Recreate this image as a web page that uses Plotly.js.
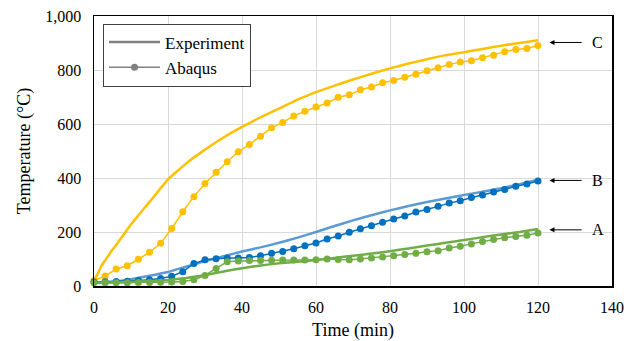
<!DOCTYPE html>
<html>
<head>
<meta charset="utf-8">
<script src="https://cdn.plot.ly/plotly-3.0.1.min.js"></script>
<style>html,body{margin:0;padding:0;background:#fff}#chart{width:633px;height:341px}</style>
</head>
<body>
<div id="chart"></div>
<script>
// Abaqus output times (min)
const tAbq = [0,3,6,9,12,15,18,21,24,27,30,33,36,39,42,45,48,51,54,57,60,63,66,69,72,75,78,81,84,87,90,93,96,99,102,105,108,111,114,117,120];
const abqC = [20,37,63,75,99,125,158,213,275,331,380,421,460,497,524,555,586,606,630,647,663,678,699,708,727,737,753,761,773,784,797,808,820,830,834,845,855,868,876,880,891];
const abqB = [15,16,17,18,20,23,28,36,53,83,97,101,104,104,106,112,121,128,138,149,159,174,185,199,212,223,236,248,259,274,283,295,307,316,328,337,348,357,369,378,389];
const abqA = [12,12,12,12,13,13,14,15,17,23,39,65,90,93,94,94,95,96,96,96,97,100,98,97,100,104,107,112,117,121,127,131,141,147,156,165,172,179,183,188,196];

// Experiment curves
const tExpC = [0,1,2,3,4,5,6,8,10,12,14,16,18,20,25,30,35,40,45,50,55,60,65,70,75,80,85,90,95,100,105,110,115,120];
const expC  = [20,45,75,95,115,135,152,190,228,262,295,328,362,395,455,505,550,589,625,657,690,718,742,765,786,806,824,840,855,866,878,890,900,910];
const tExp = [0,5,10,15,20,25,30,35,40,45,50,55,60,65,70,75,80,85,90,95,100,105,110,115,120];
const expB = [12,15,25,38,52,72,92,110,128,143,160,179,200,222,243,262,280,296,311,324,337,349,362,377,394];
const expA = [12,13,15,18,22,30,40,54,66,76,84,90,96,104,112,120,129,139,150,160,170,181,191,200,211];

// End labels
const labelText = ['C','B','A'];
const labelY = [902,391,208];

const FONT = '"Liberation Serif", "Times New Roman", serif';
const colC = '#FFC000', colBexp = '#5B9BD5', colBabq = '#0070C0', colA = '#70AD47';

function expTrace(x, y, c){ return {x:x, y:y, mode:'lines', line:{color:c, width:2.5, shape:'spline', smoothing:0.3}, showlegend:false, cliponaxis:false, hoverinfo:'skip'}; }
function abqTrace(x, y, c){ return {x:x, y:y, mode:'lines+markers', line:{color:c, width:1.5}, marker:{color:c, size:7}, showlegend:false, cliponaxis:false, hoverinfo:'skip'}; }

const traces = [
  expTrace(tExpC, expC, colC),
  abqTrace(tAbq, abqC, colC),
  expTrace(tExp, expB, colBexp),
  abqTrace(tAbq, abqB, colBabq),
  expTrace(tExp, expA, colA),
  abqTrace(tAbq, abqA, colA),
  {x:[null], y:[null], mode:'lines', name:'Experiment', line:{color:'#808080', width:2.5}, showlegend:true},
  {x:[null], y:[null], mode:'lines+markers', name:'Abaqus', line:{color:'#808080', width:1.5}, marker:{color:'#808080', size:7}, showlegend:true}
];

const annotations = [];
for (let i = 0; i < labelText.length; i++) {
  annotations.push({x:123.1, y:labelY[i], ax:132.2, ay:labelY[i], axref:'x', ayref:'y', xref:'x', yref:'y', text:'', showarrow:true, arrowhead:2, arrowsize:1, arrowwidth:1, arrowcolor:'#000', standoff:0, startstandoff:0});
  annotations.push({x:136.2, y:labelY[i], xref:'x', yref:'y', text:labelText[i], showarrow:false, xanchor:'center', yanchor:'middle', font:{family:FONT, size:16, color:'#000'}});
}

const layout = {
  width:633, height:341,
  margin:{l:94, r:21, t:16, b:55},
  paper_bgcolor:'#fff', plot_bgcolor:'#fff',
  font:{family:FONT, size:16, color:'#000'},
  xaxis:{range:[0,140], dtick:20, tick0:0, showgrid:true, gridcolor:'#d9d9d9', gridwidth:1, zeroline:false,
         showline:true, mirror:true, linecolor:'#000', linewidth:1.5, ticks:'', ticklabelstandoff:6,
         title:{text:'Time (min)', font:{family:FONT, size:18}, standoff:8}, automargin:false, fixedrange:true},
  yaxis:{range:[0,1000], dtick:200, tick0:0, tickformat:',d', showgrid:true, gridcolor:'#d9d9d9', gridwidth:1, zeroline:false,
         showline:true, mirror:true, linecolor:'#000', linewidth:1.5, ticks:'', ticklabelstandoff:8,
         title:{text:'Temperature (°C)', font:{family:FONT, size:18}, standoff:10}, automargin:false, fixedrange:true},
  legend:{x:0.0174, y:0.972, xanchor:'left', yanchor:'top', bgcolor:'#fff', bordercolor:'#404040', borderwidth:1,
          font:{family:FONT, size:17, color:'#000'}, tracegroupgap:0, itemwidth:51},
  annotations:annotations,
  showlegend:true
};

Plotly.newPlot('chart', traces, layout, {staticPlot:true, displayModeBar:false});
</script>
</body>
</html>
